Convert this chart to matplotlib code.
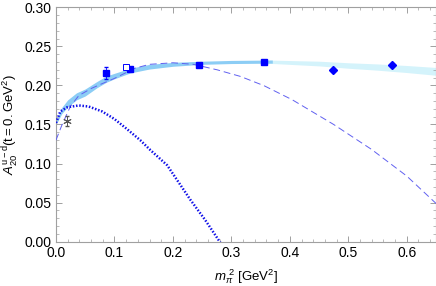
import numpy as np
import matplotlib
matplotlib.use("Agg")
import matplotlib.pyplot as plt
from matplotlib.ticker import MultipleLocator, FormatStrFormatter

plt.rcParams['font.family'] = ['Liberation Sans', 'DejaVu Sans']
plt.rcParams['mathtext.fontset'] = 'custom'
plt.rcParams['mathtext.rm'] = 'Liberation Sans'
plt.rcParams['mathtext.it'] = 'Liberation Sans:italic'

# lattice points (filled squares)
sq_x = [0.086, 0.127, 0.245, 0.356]
sq_y = [0.216, 0.221, 0.2257, 0.230]
sq_err = [0.0075, 0.0015, 0.0012, 0.0012]

# open square
osq_x = [0.1195]
osq_y = [0.2236]
osq_err = [0.002]

# diamonds
dia_x = [0.473, 0.574]
dia_y = [0.220, 0.2265]
dia_err = [0.002, 0.002]

# asterisk point
ast_x = [0.019]
ast_y = [0.1547]
ast_err = [0.006]

# fit band, fitted range
band_m = [0.0, 0.01, 0.02, 0.035, 0.05, 0.07, 0.086, 0.1, 0.127, 0.16, 0.2, 0.25, 0.3, 0.37]
band_c = [0.152, 0.168, 0.177, 0.186, 0.191, 0.201, 0.208, 0.212, 0.219, 0.224, 0.227, 0.229, 0.230, 0.2305]
band_hw = [0.002, 0.004, 0.0045, 0.0045, 0.0045, 0.004, 0.004, 0.0035, 0.003, 0.003, 0.0025, 0.002, 0.002, 0.002]

# fit band, extrapolated range
ext_m = [0.36, 0.45, 0.5, 0.55, 0.6, 0.65]
ext_c = [0.2305, 0.228, 0.2255, 0.2235, 0.221, 0.218]
ext_hw = [0.002, 0.003, 0.0035, 0.004, 0.0045, 0.005]

# dashed curve
dash_m = [0.0, 0.0103, 0.0245, 0.039, 0.06, 0.075, 0.1, 0.135, 0.16, 0.2, 0.235,
          0.2756, 0.3156, 0.356, 0.404, 0.475, 0.54, 0.60, 0.65]
dash_y = [0.130, 0.1496, 0.173, 0.187, 0.196, 0.201, 0.209, 0.222, 0.227, 0.229, 0.227,
          0.220, 0.2115, 0.1996, 0.1817, 0.150, 0.118, 0.084, 0.049]

# dotted curve
dot_m = [0.0, 0.0074, 0.019, 0.039, 0.056, 0.079, 0.1, 0.12, 0.144, 0.161, 0.19, 0.23, 0.255, 0.28, 0.29]
dot_y = [0.152, 0.1667, 0.172, 0.1744, 0.173, 0.1667, 0.157, 0.145, 0.130, 0.1176, 0.098,
         0.0535, 0.028, 0.0, -0.011]

fig = plt.figure(figsize=(4.36, 2.86), dpi=100)
ax = fig.add_axes([0.1284, 0.1549, 0.8716, 0.8196])

ax.fill_between(ext_m, np.array(ext_c) - ext_hw, np.array(ext_c) + ext_hw,
                color='#d4f3fb', lw=0, zorder=1)
ax.fill_between(band_m, np.array(band_c) - band_hw, np.array(band_c) + band_hw,
                color='#8ccdf5', lw=0, zorder=2)

ax.plot(dash_m, dash_y, color='#6060f0', lw=0.7, dashes=(7, 4), zorder=3)
ax.plot(dot_m, dot_y, color='#1010e8', lw=1.8, ls=(0, (0.6, 0.7)), zorder=3)

ax.errorbar(sq_x, sq_y, yerr=sq_err, fmt='s', ms=5, color='#0000ff', ecolor='#0000ff',
            elinewidth=0.6, capsize=1.5, zorder=5)
ax.errorbar(osq_x, osq_y, yerr=osq_err, fmt='s', ms=5, mfc='white', mec='#0000ff',
            mew=0.7, ecolor='#0000ff', elinewidth=0.6, capsize=1.5, zorder=5)
ax.errorbar(dia_x, dia_y, yerr=dia_err, fmt='D', ms=4.5, color='#0000ff', ecolor='#0000ff',
            elinewidth=0.8, capsize=0, zorder=5)
ax.errorbar(ast_x, ast_y, yerr=ast_err, fmt='none', ecolor='#555555', elinewidth=0.6,
            capsize=1.5, zorder=5)
ax.plot(ast_x, ast_y, ls='none', marker=(6, 2, 0), ms=6, mew=0.7, color='#555555', zorder=5)

ax.set_xlim(0, 0.65)
ax.set_ylim(0, 0.30)
ax.xaxis.set_major_locator(MultipleLocator(0.1))
ax.xaxis.set_minor_locator(MultipleLocator(0.02))
ax.yaxis.set_major_locator(MultipleLocator(0.05))
ax.yaxis.set_minor_locator(MultipleLocator(0.01))
ax.xaxis.set_major_formatter(FormatStrFormatter('%.1f'))
ax.yaxis.set_major_formatter(FormatStrFormatter('%.2f'))

for s in ax.spines.values():
    s.set_color('#a0a0a0')
    s.set_linewidth(0.8)
ax.tick_params(which='both', direction='in', top=True, right=True, color='#a0a0a0',
               labelsize=10, labelcolor='black', pad=3)
ax.tick_params(which='major', length=4, width=0.7)
ax.tick_params(which='minor', length=2, width=0.5)

ax.set_xlabel(r'$\mathit{m}_{\pi}^{\ 2}$ [GeV$^2$]', fontsize=9.5, labelpad=5)
ax.set_ylabel(r'$A_{20}^{\mathrm{u-d}}(\mathrm{t{=}0.GeV}^2)$', fontsize=9.5, labelpad=3)

fig.savefig('out.png', dpi=100)
